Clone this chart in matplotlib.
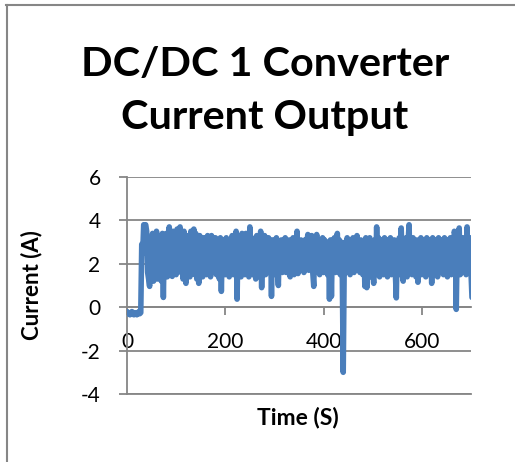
import matplotlib
matplotlib.use("Agg")
import matplotlib.pyplot as plt
from matplotlib.lines import Line2D
import numpy as np

plt.rcParams['font.family'] = ['Lato', 'DejaVu Sans']
plt.rcParams['axes.unicode_minus'] = False

title = "DC/DC 1 Converter\nCurrent Output"
x_label = "Time (S)"
y_label = "Current (A)"
x_ticks = [0, 200, 400, 600]
y_ticks = [-4, -2, 0, 2, 4, 6]

# sampled every 2 s from t = 0
time_step = 2
current = [
    -0.2, -0.3, -0.25, -0.35, -0.3, -0.2, -0.3, -0.35, -0.25, -0.3, -0.35, -0.3, -0.2, -0.3, -0.25, 2.9, 2.5, 3.8, 3.7, 3.8,
    3.5, 1.6, 1.3, 0.96, 3.2, 1.5, 3.4, 1.2, 3.0, 1.7, 3.5, 1.3, 3.3, 1.9, 3.1, 1.2, 3.4, 0.45, 3.2, 1.5,
    3.4, 1.4, 3.2, 3.7, 1.6, 3.0, 1.42, 3.5, 1.8, 3.3, 1.5, 3.6, 1.9, 3.2, 3.7, 1.6, 3.1, 1.3, 3.5, 1.5,
    1.1, 3.3, 1.7, 3.0, 1.4, 3.5, 1.8, 3.2, 3.6, 1.5, 3.4, 1.3, 3.1, 1.1, 3.3, 1.6, 3.0, 1.4, 3.2, 1.7,
    3.1, 1.5, 3.3, 1.8, 3.0, 1.4, 3.3, 1.6, 3.1, 1.9, 3.2, 1.5, 3.0, 1.7, 1.3, 3.2, 0.73, 3.0, 1.6, 3.1,
    1.5, 3.2, 1.8, 3.0, 1.4, 3.1, 1.7, 3.3, 1.5, 3.0, 1.8, 3.5, 0.37, 3.2, 1.6, 3.1, 1.4, 3.4, 1.7, 3.0,
    1.5, 3.4, 1.8, 3.1, 1.4, 3.7, 1.7, 3.2, 1.5, 3.0, 1.9, 1.3, 3.3, 1.6, 3.0, 1.4, 3.5, 0.9, 3.1, 1.7,
    3.3, 1.5, 3.0, 1.8, 3.2, 1.6, 3.0, 0.5, 3.1, 1.7, 3.0, 1.5, 3.2, 1.8, 1.0, 3.0, 1.7, 3.1, 1.6, 2.9,
    1.8, 3.2, 1.6, 3.0, 1.9, 3.1, 1.4, 3.0, 1.7, 3.2, 1.5, 2.9, 1.8, 3.5, 1.55, 3.0, 1.7, 3.1, 1.9, 3.0,
    1.6, 3.1, 1.8, 3.0, 3.35, 1.7, 3.2, 1.9, 3.3, 1.6, 0.96, 3.0, 1.8, 3.35, 1.7, 3.1, 1.5, 3.0, 1.8, 3.2,
    1.6, 3.1, 1.7, 2.9, 1.5, 3.0, 0.37, 3.1, 0.5, 3.0, 1.8, 3.2, 1.6, 3.0, 3.4, 1.7, 3.1, 1.5, 3.0, 1.8,
    -3.0, 1.9, 3.0, 1.6, 3.2, 1.8, 3.0, 1.5, 3.1, 1.9, 3.2, 1.6, 3.0, 1.7, 3.3, 1.8, 3.0, 1.6, 3.1, 1.9,
    1.5, 3.0, 0.96, 3.2, 0.9, 3.1, 1.6, 3.2, 1.4, 3.0, 1.7, 1.1, 3.1, 1.5, 3.7, 1.8, 3.2, 1.4, 3.1, 1.7,
    3.0, 1.5, 3.2, 1.8, 3.1, 1.4, 3.0, 1.7, 3.2, 1.5, 3.0, 1.8, 3.1, 1.6, 0.43, 3.0, 1.7, 3.2, 1.5, 3.65,
    1.7, 1.2, 3.1, 1.6, 3.2, 1.4, 3.0, 3.8, 1.7, 3.1, 1.5, 3.2, 1.8, 3.0, 1.4, 3.1, 1.15, 3.0, 1.6, 3.2,
    1.5, 3.1, 1.7, 3.0, 1.4, 3.2, 1.6, 3.0, 1.8, 3.1, 1.1, 3.2, 1.5, 3.0, 1.7, 3.1, 1.4, 3.2, 1.6, 3.0,
    1.7, 3.1, 1.5, 3.2, 1.8, 3.0, 1.4, 3.1, 1.6, 3.2, 1.5, 3.0, 1.7, 3.5, 3.3, -0.1, 3.0, 1.6, 3.65, 1.5,
    3.1, 1.6, 3.2, 1.8, 3.0, 1.5, 3.7, 1.7, 3.1, 3.2, 1.6, 0.45,
]
time = np.arange(len(current)) * time_step

W, H = 515, 462
fig = plt.figure(figsize=(W / 100, H / 100), dpi=100)
ax = fig.add_axes([127 / W, (H - 394) / H, 344 / W, 217 / H])

grey = '#868686'
ax.plot(time, current, color='#4A7EBB', lw=4.0, solid_joinstyle='round', solid_capstyle='round', zorder=3)

ax.set_xlim(0, 700)
ax.set_ylim(-4, 6)
ax.set_yticks(y_ticks)
ax.set_xticks(x_ticks)
ax.yaxis.grid(True, color=grey, lw=1.3)
ax.set_axisbelow(True)

for s in ['top', 'right']:
    ax.spines[s].set_visible(False)
ax.spines['left'].set_color(grey)
ax.spines['left'].set_linewidth(1.3)
ax.spines['bottom'].set_position(('data', 0))
ax.spines['bottom'].set_color(grey)
ax.spines['bottom'].set_linewidth(1.3)
ax.spines['bottom'].set_zorder(2)
ax.axhline(-4, color=grey, lw=1.3, zorder=2, clip_on=False)

ax.tick_params(axis='both', colors=grey, labelcolor='black', labelsize=15,
               length=6, width=1.3, direction='out', pad=13)
ax.tick_params(axis='x', pad=12)

ax.set_ylabel(y_label, fontsize=16, fontweight='bold')
ax.yaxis.set_label_coords(-0.245, 0.5)
fig.text(298 / W, 1 - 417 / H, x_label, ha='center', va='center', fontsize=16.5, fontweight='bold')
fig.text(265 / W, 1 - 91 / H, title, ha='center', va='center', fontsize=29.8,
         fontweight='bold', linespacing=1.55)

# chart area border (top and left)
fig.add_artist(Line2D([6 / W, 1], [1 - 5 / H, 1 - 5 / H], color=grey, lw=1.5, transform=fig.transFigure))
fig.add_artist(Line2D([7 / W, 7 / W], [0, 1 - 5 / H], color=grey, lw=1.5, transform=fig.transFigure))

fig.savefig('out.png', dpi=100)
